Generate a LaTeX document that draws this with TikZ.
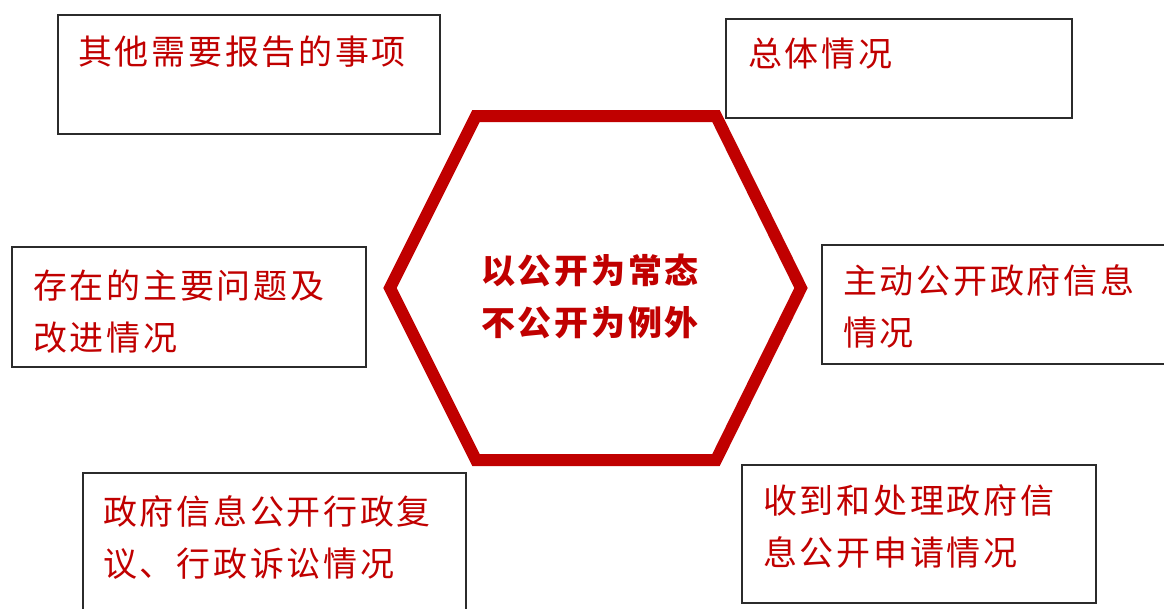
\documentclass[tikz,border=0pt]{standalone}
\usepackage{fontspec}
\newfontfamily\cjk[LetterSpace=8]{Noto Sans CJK SC}
\usetikzlibrary{positioning}
\definecolor{darkred}{HTML}{C00000}
\definecolor{boxgray}{HTML}{2B2B2B}

\begin{document}
\begin{tikzpicture}[x=1pt,y=-1pt]
			\tikzstyle{infobox}=[draw=boxgray,line width=1.6pt,anchor=north west,inner sep=0pt]
			\tikzstyle{boxtext}=[text=darkred,anchor=base west,align=left,inner sep=0pt,font=\cjk\fontsize{34}{52}\selectfont]
			\tikzstyle{hexline}=[draw=darkred,line width=12pt,line join=miter]
			\useasboundingbox (0,0) rectangle (1164,608);

			% centre hexagon
			\draw[hexline] (390,288) -- (476,116) -- (716,116) -- (801,288) -- (716,460) -- (476,460) -- cycle;
			\node[text=darkred,anchor=base,align=center,inner sep=0pt,font=\cjk\bfseries\fontsize{34}{52}\selectfont] (motto) at (590,335) {以公开为常态\\不公开为例外};

			% six boxes
			\node[infobox,minimum width=382pt,minimum height=119pt] (other) at (57,14) {};
			\node[infobox,minimum width=346pt,minimum height=99pt] (overall) at (725,18) {};
			\node[infobox,minimum width=354pt,minimum height=120pt] (problems) at (11,246) {};
			\node[infobox,minimum width=360pt,minimum height=119pt] (active) at (821,244) {};
			\node[infobox,minimum width=383pt,minimum height=150pt] (review) at (82,472) {};
			\node[infobox,minimum width=354pt,minimum height=138pt] (apply) at (741,464) {};

			\node[boxtext] (othertext) at ([shift={(21,50)}]other.north west) {其他需要报告的事项};
			\node[boxtext] (overalltext) at ([shift={(23,48)}]overall.north west) {总体情况};
			\node[boxtext] (problemstext) at ([shift={(22,104)}]problems.north west) {存在的主要问题及\\改进情况};
			\node[boxtext] (activetext) at ([shift={(22,101)}]active.north west) {主动公开政府信息\\情况};
			\node[boxtext] (reviewtext) at ([shift={(21,104)}]review.north west) {政府信息公开行政复\\议、行政诉讼情况};
			\node[boxtext] (applytext) at ([shift={(22,101)}]apply.north west) {收到和处理政府信\\息公开申请情况};
\end{tikzpicture}
\end{document}
